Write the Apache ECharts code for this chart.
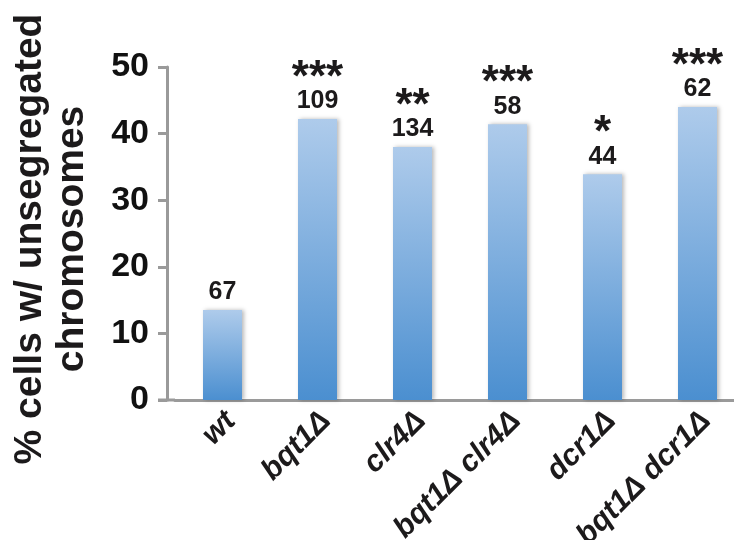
<!DOCTYPE html>
<html>
<head>
<meta charset="utf-8">
<script src="https://cdn.jsdelivr.net/npm/echarts@6/dist/echarts.min.js"></script>
<style>
  html, body { margin: 0; padding: 0; background: #fff; }
  #chart { width: 734px; height: 540px; }
</style>
</head>
<body>
<div id="chart"></div>
<script>
// Strains and measurements
const strains = ['wt', 'bqt1Δ', 'clr4Δ', 'bqt1Δ clr4Δ', 'dcr1Δ', 'bqt1Δ dcr1Δ'];
const unsegregatedPct = [13.5, 42.2, 38.0, 41.4, 33.9, 44.0];
const cellCounts = [67, 109, 134, 58, 44, 62];
const significance = ['', '***', '**', '***', '*', '***'];
const yTicks = [0, 10, 20, 30, 40, 50];

const FONT = '"Liberation Sans", Arial, Helvetica, sans-serif';
const AXIS_GRAY = '#9a9a9a';
const TEXT = '#1c1a1b';

const GRID = { left: 175, top: 67, width: 570, height: 333, outerBoundsMode: 'none', containLabel: false };
const Y_OFFSET = 8;
const TICK_LEN = 9;

const chart = echarts.init(document.getElementById('chart'), null, { renderer: 'canvas' });

const barData = unsegregatedPct.map((v, i) => ({
  value: v,
  label: {
    formatter: significance[i]
      ? '{s|' + significance[i] + '}\n{n|' + cellCounts[i] + '}'
      : '{n|' + cellCounts[i] + '}'
  }
}));

chart.setOption({
  animation: false,
  backgroundColor: '#ffffff',
  grid: GRID,
  xAxis: {
    type: 'category',
    data: strains,
    boundaryGap: true,
    axisLine: { show: true, lineStyle: { color: AXIS_GRAY, width: 3 } },
    axisTick: { show: false },
    axisLabel: {
      interval: 0,
      rotate: 45,
      margin: 25,
      padding: [0, -12, 0, 0],
      color: TEXT,
      fontFamily: FONT,
      fontSize: 30,
      fontWeight: 'bold',
      fontStyle: 'italic'
    },
    splitLine: { show: false }
  },
  yAxis: {
    type: 'value',
    min: yTicks[0],
    max: yTicks[yTicks.length - 1],
    interval: 10,
    offset: Y_OFFSET,
    name: '% cells w/ unsegregated\nchromosomes',
    nameLocation: 'middle',
    nameGap: 74,
    nameRotate: 90,
    nameTextStyle: {
      color: TEXT,
      fontFamily: FONT,
      fontSize: 39,
      fontWeight: 'bold',
      lineHeight: 42,
      align: 'center',
      padding: [0, 11, 0, 0]
    },
    axisLine: { show: true, lineStyle: { color: AXIS_GRAY, width: 3 } },
    axisTick: { show: true, length: TICK_LEN, lineStyle: { color: AXIS_GRAY, width: 3 } },
    axisLabel: {
      margin: 18,
      color: '#111',
      fontFamily: FONT,
      fontSize: 34,
      fontWeight: 'bold'
    },
    splitLine: { show: false }
  },
  series: [{
    type: 'bar',
    data: barData,
    barWidth: 39,
    itemStyle: {
      color: new echarts.graphic.LinearGradient(0, 0, 0, 1, [
        { offset: 0, color: '#aecbeb' },
        { offset: 1, color: '#4b8fd0' }
      ]),
      shadowColor: 'rgba(0,0,0,0.28)',
      shadowBlur: 4,
      shadowOffsetX: 2,
      shadowOffsetY: 0
    },
    label: {
      show: true,
      position: 'top',
      distance: 4,
      color: TEXT,
      fontFamily: FONT,
      rich: {
        s: { fontSize: 44, fontWeight: 'bold', lineHeight: 18, color: TEXT, fontFamily: FONT },
        n: { fontSize: 25, fontWeight: 'bold', lineHeight: 27, color: TEXT, fontFamily: FONT }
      }
    }
  }]
});

// Extend the baseline leftwards under the offset y axis so the two axes meet
const baseY = chart.convertToPixel({ yAxisIndex: 0 }, 0);
chart.setOption({
  graphic: [{
    type: 'line',
    shape: { x1: GRID.left - Y_OFFSET - TICK_LEN, y1: baseY, x2: GRID.left, y2: baseY },
    style: { stroke: AXIS_GRAY, lineWidth: 3 },
    z: 10
  }]
});
</script>
</body>
</html>
